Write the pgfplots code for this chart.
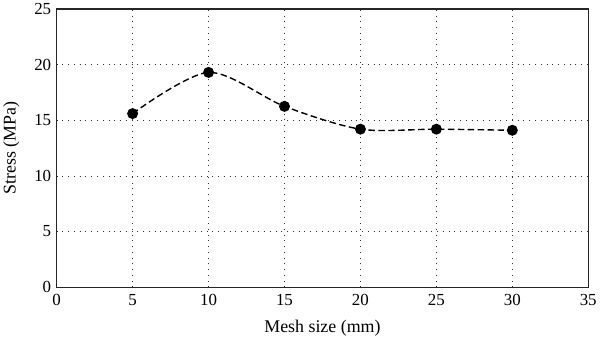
\documentclass[border=0pt]{standalone}
\usepackage{pgfplots}
\pgfplotsset{compat=1.18}
\usepackage{fontspec}
\setmainfont{Liberation Serif}
\begin{document}
\begin{tikzpicture}
\begin{axis}[
  scale only axis,
  width=535pt, height=280pt,
  xmin=0, xmax=35, ymin=0, ymax=25,
  xtick={0,5,...,35}, ytick={0,5,...,25},
  major tick length=0pt,
  grid=major,
  major grid style={black!80, line width=0.7pt, dash pattern=on 0.8pt off 5pt},
  axis line style={line width=1.1pt, black!85},
  tick label style={font=\fontsize{17}{18}\selectfont},
  label style={font=\fontsize{18}{20}\selectfont},
  xticklabel style={yshift=-4pt},
  yticklabel style={xshift=-2pt},
  /pgf/number format/assume math mode=true,
  xlabel={Mesh size (mm)},
  ylabel={Stress (MPa)},
  xlabel style={yshift=-7pt},
  ylabel style={yshift=8pt},
]
\addplot[black, line width=1.4pt, dash pattern=on 6.5pt off 3.5pt, smooth, tension=0.5, mark=*, mark size=4.8pt, mark options={solid}]
coordinates {(5,15.6) (10,19.3) (15,16.25) (20,14.2) (25,14.2) (30,14.1)};
\end{axis}
\end{tikzpicture}
\end{document}
